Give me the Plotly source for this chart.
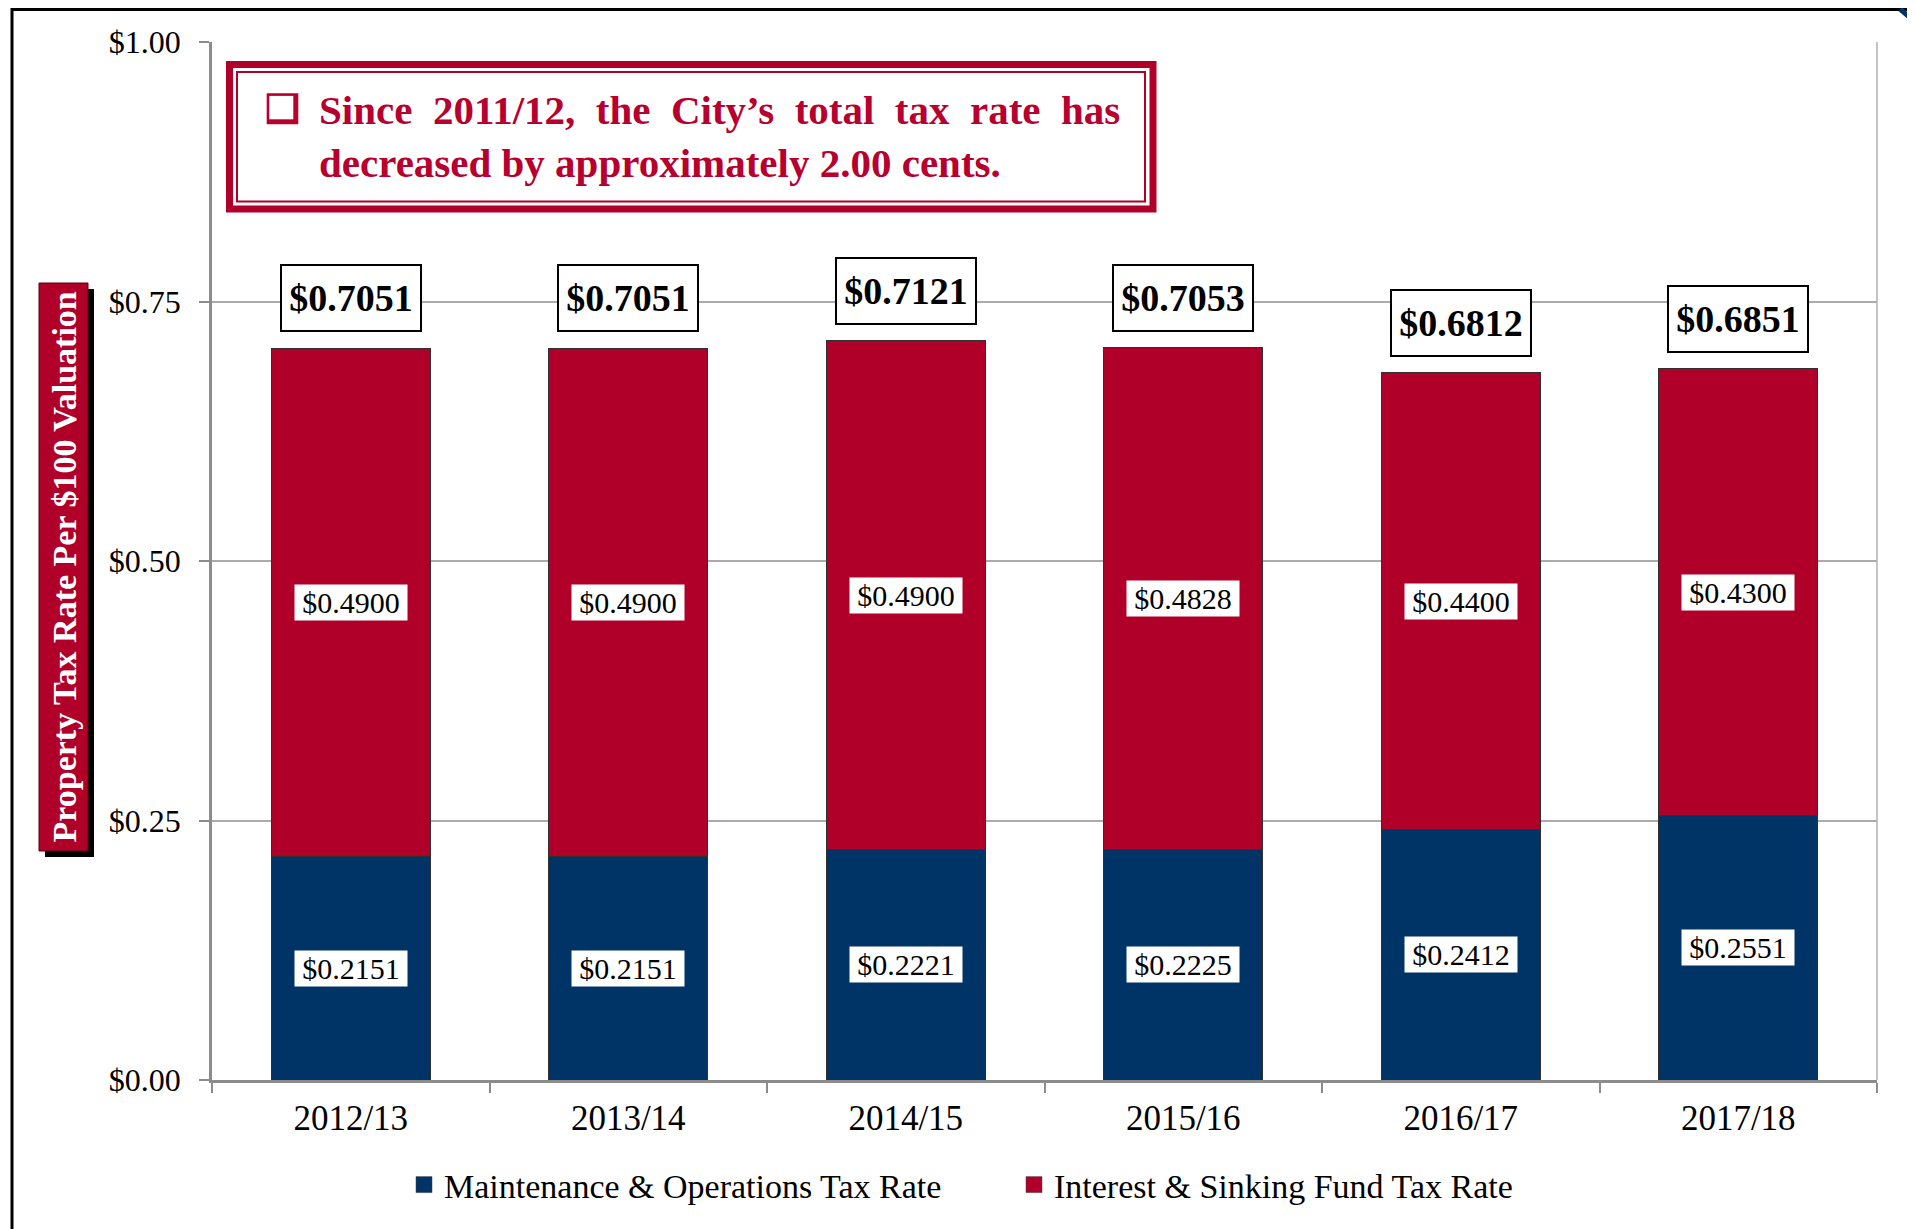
import plotly.graph_objects as go

years = ["2012/13", "2013/14", "2014/15", "2015/16", "2016/17", "2017/18"]
mo_rate = [0.2151, 0.2151, 0.2221, 0.2225, 0.2412, 0.2551]
is_rate = [0.4900, 0.4900, 0.4900, 0.4828, 0.4400, 0.4300]
total_rate = [0.7051, 0.7051, 0.7121, 0.7053, 0.6812, 0.6851]
y_ticks = [0, 0.25, 0.5, 0.75, 1.0]
y_tick_text = ["$0.00", "$0.25", "$0.50", "$0.75", "$1.00"]
series_names = ["Maintenance & Operations Tax Rate", "Interest & Sinking Fund Tax Rate"]

NAVY = "#003366"
RED = "#B00029"
TXT_RED = "#B8002E"
GREY = "#8C8C8C"
SERIF = "Liberation Serif, Times New Roman, serif"

O = 8  # page body margin
W, H = 1915 - O, 1229 - O
L, R, T, B = 212, 1877, 42, 1080  # plot area in reference pixels


def px(x):
    return (x - L) / (R - L)


def py(y):
    return (B - y) / (B - T)


fig = go.Figure()
for vals, name, col in [(mo_rate, series_names[0], NAVY), (is_rate, series_names[1], RED)]:
    fig.add_trace(go.Bar(x=years, y=vals, name=name, showlegend=False,
                         marker=dict(color=col, line=dict(color="#303030", width=1)), width=0.573))
# legend entries with larger squares
for name, col in [(series_names[0], NAVY), (series_names[1], RED)]:
    fig.add_trace(go.Scatter(x=[None], y=[None], mode="markers", name=name,
                             marker=dict(symbol="square", size=18, color=col,
                                         line=dict(color="#404040", width=0.5))))

ann = []
for yr, mo, i_s, tot in zip(years, mo_rate, is_rate, total_rate):
    ann.append(dict(x=yr, y=mo / 2, text=f"${mo:.4f}", showarrow=False, bgcolor="white",
                    width=112, height=35, borderpad=0,
                    font=dict(family=SERIF, size=30, color="black")))
    ann.append(dict(x=yr, y=mo + i_s / 2, text=f"${i_s:.4f}", showarrow=False, bgcolor="white",
                    width=112, height=35, borderpad=0,
                    font=dict(family=SERIF, size=30, color="black")))
    ann.append(dict(x=yr, y=tot, yshift=50, text=f"<b>${tot:.4f}</b>", showarrow=False,
                    bgcolor="white", bordercolor="black", borderwidth=2, borderpad=0,
                    width=138, height=64,
                    font=dict(family=SERIF, size=38, color="black")))

# callout box text
line1 = "Since 2011/12, the City’s total tax rate has".replace(" ", " \u00a0")
ann.append(dict(xref="paper", yref="paper", x=px(317), y=py(136), xanchor="left", yanchor="middle",
                align="left", showarrow=False,
                text=f"<b>{line1}<br>decreased by approximately 2.00 cents.</b>",
                font=dict(family=SERIF, size=41, color=TXT_RED)))
# y axis title
ann.append(dict(xref="paper", yref="paper", x=px(63.5), y=py(567), xanchor="center", yanchor="middle",
                textangle=-90, showarrow=False,
                text="<b>Property Tax Rate Per $100 Valuation</b>",
                font=dict(family=SERIF, size=34, color="white")))


def rect(x0, y0, x1, y1, **kw):
    return dict(type="rect", xref="paper", yref="paper",
                x0=px(x0), x1=px(x1), y0=py(y1), y1=py(y0), **kw)


shapes = [
    # outer frame
    rect(12, 9.5, 1909, 1300, line=dict(color="black", width=3)),
    # corner fragment
    dict(type="line", xref="paper", yref="paper", x0=px(1900), y0=py(9), x1=px(1913), y1=py(20),
         line=dict(color=NAVY, width=5)),
    # right border of plot
    dict(type="line", xref="paper", yref="paper", x0=1, x1=1, y0=0, y1=1,
         line=dict(color="#B0B0B0", width=1.5)),
    # callout box
    rect(229.5, 64.5, 1153, 209, line=dict(color=RED, width=7), fillcolor="white"),
    rect(237, 72, 1145, 201.5, line=dict(color=RED, width=2)),
    # bullet square with shadow
    rect(266.7, 93.3, 298.3, 124.3, line=dict(width=0), fillcolor=TXT_RED),
    rect(269.3, 95.9, 293.3, 119.3, line=dict(width=0), fillcolor="white"),
    # y title box with shadow
    rect(45, 289, 94, 857, line=dict(width=0), fillcolor="black"),
    rect(39, 283, 88, 851, line=dict(color="#5A0015", width=1), fillcolor=RED),
]

fig.update_layout(
    width=W, height=H,
    margin=dict(l=L - O, r=W - (R - O), t=T - O, b=H - (B - O)),
    barmode="stack",
    paper_bgcolor="white", plot_bgcolor="white",
    font=dict(family=SERIF, color="black"),
    annotations=ann, shapes=shapes,
    legend=dict(orientation="h", traceorder="normal", x=px(404), xanchor="left",
                y=py(1185), yanchor="middle", entrywidth=565,
                font=dict(family=SERIF, size=34, color="black")),
)
fig.update_xaxes(showgrid=False, showline=True, linecolor=GREY, linewidth=2.5,
                 ticks="outside", tickson="boundaries", ticklen=10, tickwidth=2, tickcolor=GREY,
                 ticklabelstandoff=5,
                 tickfont=dict(family=SERIF, size=35, color="black"))
fig.update_yaxes(range=[0, 1], tickvals=y_ticks, ticktext=y_tick_text,
                 showgrid=True, gridcolor="#ABABAB", gridwidth=1.5, zeroline=False,
                 showline=True, linecolor=GREY, linewidth=2.5,
                 ticks="outside", ticklen=10, tickwidth=2, tickcolor=GREY,
                 ticklabelstandoff=12,
                 tickfont=dict(family=SERIF, size=32, color="black"))

fig.write_html("out.html")
